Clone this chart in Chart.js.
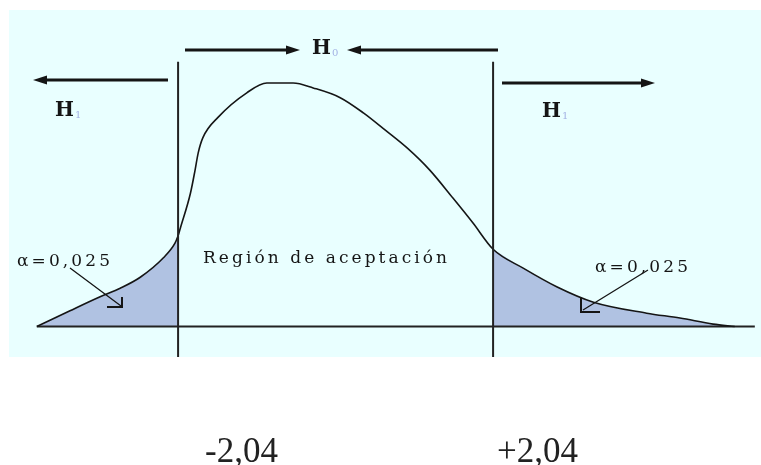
<!DOCTYPE html>
<html>
<head>
<meta charset="utf-8">
<script src="https://cdn.jsdelivr.net/npm/chart.js@4.4.1/dist/chart.umd.min.js"></script>
<style>
  html, body { margin: 0; padding: 0; background: #fff; }
  #wrap { width: 761px; height: 465px; position: relative; }
</style>
</head>
<body>
<div id="wrap"><canvas id="dist"></canvas></div>
<script>
// curve of the test statistic (x = z value, y = density, arbitrary units)
const curveX = [-3.87, -3.44, -3.05, -2.79, -2.53, -2.23, -2.08, -2.04, -2.01, -1.88, -1.82, -1.78, -1.72,
  -1.52, -1.15, -0.89, -0.55, -0.29, 0.06, 0.36, 0.64, 0.93, 1.22, 1.52, 1.78, 2.04,
  2.43, 2.87, 3.34, 4.03, 4.46, 4.89, 5.17];
const curveY = [0, 0.026, 0.049, 0.063, 0.081, 0.113, 0.137, 0.149, 0.162, 0.219, 0.257, 0.285, 0.310,
  0.344, 0.384, 0.400, 0.400, 0.392, 0.376, 0.351, 0.323, 0.293, 0.257, 0.211, 0.170, 0.127,
  0.096, 0.065, 0.040, 0.022, 0.014, 0.004, 0];

// critical values and their labels
const critValues = [-2.04, 2.04];
const critLabels = ["-2,04", "+2,04"];

const baseX = [-3.87, 5.43];
const critTop = 0.435;

const pts = curveX.map((x, i) => ({ x: x, y: curveY[i] }));
const leftTail = pts.filter(p => p.x <= critValues[0]);
const rightTail = pts.filter(p => p.x >= critValues[1]);

const ink = "#151515";
const tailFill = "#b0c2e2";
const serif = '"Liberation Serif", "Times New Roman", serif';
const wide = '"DejaVu Serif", serif';

function drawSpaced(ctx, text, x, y, width, font) {
  ctx.font = font;
  const chars = Array.from(text);
  const natural = chars.reduce((s, c) => s + ctx.measureText(c).width, 0);
  const gap = chars.length > 1 ? (width - natural) / (chars.length - 1) : 0;
  let cx = x;
  chars.forEach(c => {
    ctx.fillText(c, cx, y);
    cx += ctx.measureText(c).width + gap;
  });
}

function drawArrow(ctx, x1, y1, x2, y2) {
  const dir = Math.sign(x2 - x1);
  ctx.lineWidth = 3;
  ctx.beginPath();
  ctx.moveTo(x1, y1);
  ctx.lineTo(x2 - dir * 8, y2);
  ctx.stroke();
  ctx.beginPath();
  ctx.moveTo(x2, y2);
  ctx.lineTo(x2 - dir * 14, y2 - 4.5);
  ctx.lineTo(x2 - dir * 14, y2 + 4.5);
  ctx.closePath();
  ctx.fill();
}

function drawH(ctx, x, y, sub) {
  ctx.fillStyle = ink;
  ctx.font = "bold 20px " + wide;
  ctx.fillText("H", x, y);
  const w = ctx.measureText("H").width;
  ctx.fillStyle = "#a3b2e4";
  ctx.font = "10px " + wide;
  ctx.fillText(sub, x + w + 1, y + 2);
}

const backdrop = {
  id: "backdrop",
  beforeDraw(chart) {
    const { ctx, chartArea } = chart;
    ctx.save();
    ctx.fillStyle = "#e9ffff";
    ctx.fillRect(chartArea.left, chartArea.top, chartArea.right - chartArea.left, chartArea.bottom - chartArea.top);
    ctx.restore();
  }
};

const notes = {
  id: "notes",
  afterDatasetsDraw(chart) {
    const ctx = chart.ctx;
    const xs = chart.scales.x;
    ctx.save();
    ctx.strokeStyle = ink;
    ctx.fillStyle = ink;
    ctx.textBaseline = "alphabetic";
    ctx.textAlign = "left";

    // hypothesis arrows
    drawArrow(ctx, 185, 50, 300, 50);
    drawArrow(ctx, 498, 50, 347, 50);
    drawArrow(ctx, 168, 80, 33, 80);
    drawArrow(ctx, 502, 83, 655, 83);

    drawH(ctx, 312, 54, "0");
    drawH(ctx, 55, 116, "1");
    drawH(ctx, 542, 117, "1");

    ctx.fillStyle = ink;
    drawSpaced(ctx, "Región de aceptación", 203, 263, 244, "17px " + wide);
    drawSpaced(ctx, "α=0,025", 17, 266, 93, "17px " + wide);
    drawSpaced(ctx, "α=0,025", 595, 272, 93, "17px " + wide);

    // pointers to the tails
    ctx.lineWidth = 1.3;
    ctx.beginPath();
    ctx.moveTo(70, 268); ctx.lineTo(121, 306);
    ctx.moveTo(648, 270); ctx.lineTo(583, 310);
    ctx.stroke();
    ctx.lineWidth = 2;
    ctx.beginPath();
    ctx.moveTo(107, 307); ctx.lineTo(122, 307); ctx.lineTo(122, 297);
    ctx.moveTo(581, 298); ctx.lineTo(581, 312); ctx.lineTo(600, 312);
    ctx.stroke();

    // critical value labels under the chart
    const shift = [27, 4];
    ctx.fillStyle = "#222";
    ctx.font = "35px " + serif;
    critValues.forEach((v, i) => {
      ctx.fillText(critLabels[i], xs.getPixelForValue(v) + shift[i], 462);
    });
    ctx.restore();
  }
};

const lineBase = { pointRadius: 0, fill: false, borderColor: ink, cubicInterpolationMode: "monotone" };

new Chart(document.getElementById("dist"), {
  type: "line",
  data: {
    datasets: [
      ...critValues.map(v => ({
        ...lineBase, order: 0, borderWidth: 2, borderColor: "#222",
        cubicInterpolationMode: "default",
        data: [{ x: v, y: -0.05 }, { x: v, y: critTop }]
      })),
      { ...lineBase, order: 1, borderWidth: 1.6, data: pts },
      { ...lineBase, order: 2, borderWidth: 2, borderColor: "#222",
        data: baseX.map(x => ({ x: x, y: 0 })) },
      { ...lineBase, order: 3, borderWidth: 0, fill: "origin",
        backgroundColor: tailFill, data: leftTail },
      { ...lineBase, order: 3, borderWidth: 0, fill: "origin",
        backgroundColor: tailFill, data: rightTail }
    ]
  },
  options: {
    responsive: true,
    maintainAspectRatio: false,
    animation: false,
    events: [],
    layout: { padding: { left: 9, top: 10, right: 0, bottom: 108 } },
    plugins: { legend: { display: false }, tooltip: { enabled: false } },
    scales: {
      x: { type: "linear", min: -4.23, max: 5.51, display: false },
      y: { min: -0.05, max: 0.52, display: false }
    }
  },
  plugins: [backdrop, notes]
});
</script>
</body>
</html>
